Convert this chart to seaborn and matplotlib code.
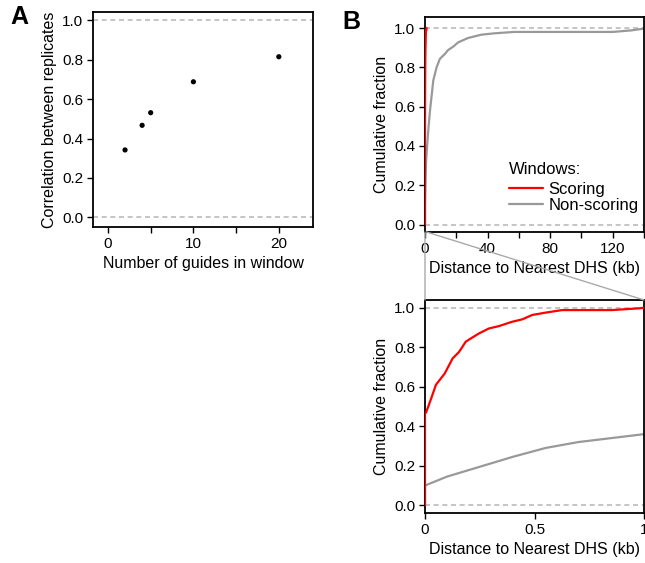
import numpy as np
import pandas as pd
import matplotlib
matplotlib.use("Agg")
import matplotlib.pyplot as plt
from matplotlib.patches import ConnectionPatch
import seaborn as sns

# Panel A: replicate correlation vs number of guides per window
n_guides = [2, 4, 5, 10, 20]
correlation = [0.342, 0.467, 0.531, 0.688, 0.815]

# Panel B: cumulative fraction of windows vs distance to nearest DHS (kb)
nonscoring_kb = [0, 0, 0.1, 0.25, 0.4, 0.55, 0.7, 0.85, 1.0, 2, 3.2, 5.3, 7.4, 9.5,
                 12.7, 14.8, 18, 21.2, 27.5, 36, 44.4, 57, 80, 100, 120, 132, 140]
nonscoring_frac = [0, 0.10, 0.145, 0.195, 0.245, 0.29, 0.32, 0.34, 0.36, 0.47, 0.58,
                   0.733, 0.80, 0.843, 0.868, 0.888, 0.905, 0.927, 0.949, 0.966, 0.973,
                   0.98, 0.98, 0.98, 0.98, 0.988, 0.997]
scoring_kb = [0, 0, 0.005, 0.02, 0.05, 0.09, 0.126, 0.156, 0.186, 0.21, 0.247, 0.292,
              0.338, 0.398, 0.444, 0.489, 0.55, 0.626, 0.70, 0.853, 0.98, 1.0]
scoring_frac = [0, 0.465, 0.47, 0.515, 0.61, 0.667, 0.743, 0.777, 0.828, 0.845, 0.87,
                0.895, 0.907, 0.929, 0.941, 0.963, 0.975, 0.988, 0.988, 0.988, 0.997, 1.0]

sns.set_theme(style="ticks")
plt.rcParams["font.family"] = ["Liberation Sans", "DejaVu Sans"]
plt.rcParams.update({
    "font.size": 11.5,
    "axes.labelsize": 11.5,
    "xtick.labelsize": 11,
    "ytick.labelsize": 11,
    "axes.linewidth": 1.3,
    "axes.edgecolor": "black",
    "xtick.major.size": 4,
    "ytick.major.size": 4,
    "xtick.major.width": 1,
    "ytick.major.width": 1,
    "xtick.major.pad": 3,
    "ytick.major.pad": 3,
    "xtick.color": "black",
    "ytick.color": "black",
    "axes.labelcolor": "black",
    "text.color": "black",
})

RED = "#ff0000"
GREY = "#999999"
DASH = "#bbbbbb"

fig = plt.figure(figsize=(6.45, 5.63), dpi=100)
W, H = 645, 563


def box(l, t, r, b):
    return [l / W, 1 - b / H, (r - l) / W, (b - t) / H]


ax_a = fig.add_axes(box(93, 12, 313, 227))
ax_b1 = fig.add_axes(box(425, 17, 644, 232))
ax_b2 = fig.add_axes(box(425, 300, 644, 513))

# Panel A
df_a = pd.DataFrame({"guides": n_guides, "corr": correlation})
sns.scatterplot(data=df_a, x="guides", y="corr", ax=ax_a, color="black", s=14,
                edgecolor="none", zorder=3)
for yv in (0, 1):
    ax_a.axhline(yv, color=DASH, ls=(0, (3, 2.2)), lw=1.2, zorder=1)
ax_a.set_xlim(-1.75, 24)
ax_a.set_ylim(-0.049, 1.042)
ax_a.set_xticks([0, 5, 10, 15, 20])
ax_a.set_xticklabels(["0", "", "10", "", "20"])
ax_a.set_yticks(np.arange(0, 1.01, 0.2))
ax_a.set_yticklabels([f"{v:.1f}" for v in np.arange(0, 1.01, 0.2)])
ax_a.set_xlabel("Number of guides in window")
ax_a.set_ylabel("Correlation between replicates")

# Panel B, both zoom levels
df_ns = pd.DataFrame({"kb": nonscoring_kb, "frac": nonscoring_frac})
df_sc = pd.DataFrame({"kb": scoring_kb, "frac": scoring_frac})
for ax in (ax_b1, ax_b2):
    for yv in (0, 1):
        ax.axhline(yv, color=DASH, ls=(0, (3, 2.2)), lw=1.2, zorder=1)
    sns.lineplot(data=df_ns, x="kb", y="frac", ax=ax, color=GREY, lw=1.6,
                 estimator=None, sort=False, label="Non-scoring", zorder=2)
    sns.lineplot(data=df_sc, x="kb", y="frac", ax=ax, color=RED, lw=1.6,
                 estimator=None, sort=False, label="Scoring", zorder=3)
    ax.set_yticks(np.arange(0, 1.01, 0.2))
    ax.set_yticklabels([f"{v:.1f}" for v in np.arange(0, 1.01, 0.2)])
    ax.set_xlabel("Distance to Nearest DHS (kb)")
    ax.set_ylabel("Cumulative fraction")

ax_b1.set_xlim(0, 140)
ax_b1.set_ylim(-0.038, 1.056)
ax_b1.set_xticks([0, 20, 40, 60, 80, 100, 120, 140])
ax_b1.set_xticklabels(["0", "", "40", "", "80", "", "120", ""])

ax_b2.set_xlim(0, 1)
ax_b2.set_ylim(-0.039, 1.039)
ax_b2.set_xticks([0, 0.5, 1])
ax_b2.set_xticklabels(["0", "0.5", "1"])
ax_b2.get_legend().remove()

handles, labels = ax_b1.get_legend_handles_labels()
ax_b1.legend(handles[::-1], labels[::-1], frameon=False,
             loc="lower left", bbox_to_anchor=(0.385, 0.09),
             fontsize=12, handlelength=2.05, handletextpad=0.3,
             labelspacing=0.05, borderpad=0, borderaxespad=0)
ax_b1.text(0.385, 0.29, "Windows:", transform=ax_b1.transAxes, fontsize=12,
           ha="left", va="center")

# zoom connector lines between the two B panels
for xv in (0, 1):
    con = ConnectionPatch(xyA=(xv, ax_b1.get_ylim()[0]), coordsA=ax_b1.transData,
                          xyB=(xv, ax_b2.get_ylim()[1]), coordsB=ax_b2.transData,
                          color="#aaaaaa", lw=1)
    fig.add_artist(con)

fig.text(10 / W, 1 - 5 / H, "A", fontsize=18, fontweight="bold", va="top", ha="left")
fig.text(342 / W, 1 - 10 / H, "B", fontsize=18, fontweight="bold", va="top", ha="left")

fig.savefig("out.png", dpi=100)
